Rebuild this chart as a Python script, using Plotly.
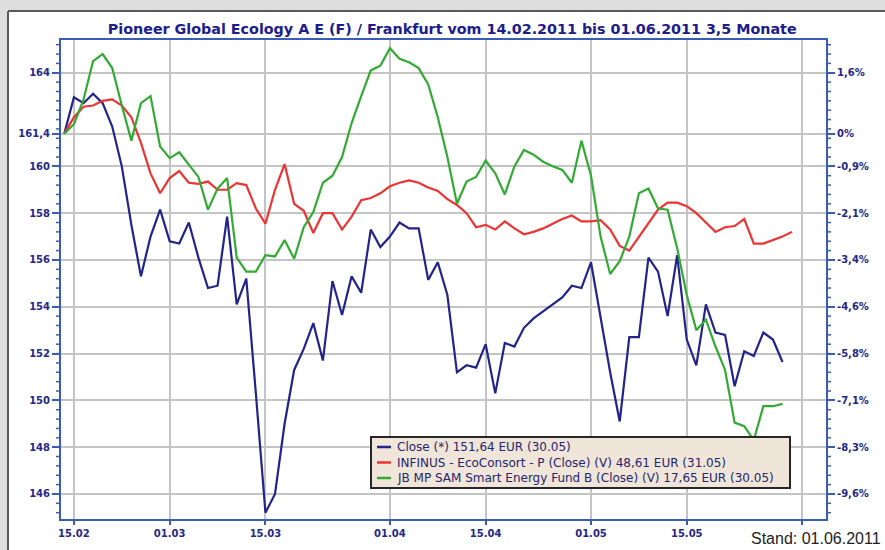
import plotly.graph_objects as go

# Trading days (Frankfurt) 14.02.2011 - 31.05.2011
dates = [
    "2011-02-14", "2011-02-15", "2011-02-16", "2011-02-17", "2011-02-18",
    "2011-02-21", "2011-02-22", "2011-02-23", "2011-02-24", "2011-02-25",
    "2011-02-28",
    "2011-03-01", "2011-03-02", "2011-03-03", "2011-03-04",
    "2011-03-07", "2011-03-08", "2011-03-09", "2011-03-10", "2011-03-11",
    "2011-03-14", "2011-03-15", "2011-03-16", "2011-03-17", "2011-03-18",
    "2011-03-21", "2011-03-22", "2011-03-23", "2011-03-24", "2011-03-25",
    "2011-03-28", "2011-03-29", "2011-03-30", "2011-03-31",
    "2011-04-01",
    "2011-04-04", "2011-04-05", "2011-04-06", "2011-04-07", "2011-04-08",
    "2011-04-11", "2011-04-12", "2011-04-13", "2011-04-14", "2011-04-15",
    "2011-04-18", "2011-04-19", "2011-04-20", "2011-04-21", "2011-04-22",
    "2011-04-25", "2011-04-26", "2011-04-27", "2011-04-28", "2011-04-29",
    "2011-05-02", "2011-05-03", "2011-05-04", "2011-05-05", "2011-05-06",
    "2011-05-09", "2011-05-10", "2011-05-11", "2011-05-12", "2011-05-13",
    "2011-05-16", "2011-05-17", "2011-05-18", "2011-05-19", "2011-05-20",
    "2011-05-23", "2011-05-24", "2011-05-25", "2011-05-26", "2011-05-27",
    "2011-05-30", "2011-05-31",
]

close_values = [
    161.4, 162.95, 162.7, 163.1, 162.7, 161.7, 160.0, 157.5, 155.3, 157.0,
    158.15, 156.8, 156.7, 157.6, 156.1, 154.8, 154.9, 157.85, 154.1, 155.2,
    150.3, 145.2, 146.0, 149.0, 151.3, 152.2, 153.3, 151.7, 155.1, 153.65,
    155.3, 154.6, 157.3, 156.55, 157.0, 157.6, 157.35, 157.35, 155.15, 155.9,
    154.5, 151.2, 151.5, 151.4, 152.4, 150.3, 152.45, 152.3, 153.1, 153.5,
    153.8, 154.1, 154.4, 154.9, 154.8, 155.9, 153.5, 151.2, 149.1, 152.7,
    152.7, 156.1, 155.5, 153.6, 156.2, 152.6, 151.5, 154.1, 152.9, 152.8,
    150.6, 152.1, 151.9, 152.9, 152.6, 151.64,
]

infinus_values = [
    161.4, 162.1, 162.55, 162.6, 162.8, 162.86, 162.6, 162.1, 161.0, 159.7,
    158.85, 159.5, 159.8, 159.3, 159.25, 159.35, 159.0, 159.0, 159.28, 159.2,
    158.2, 157.55, 159.0, 160.1, 158.4, 158.1, 157.15, 158.0, 158.0, 157.3,
    157.85, 158.55, 158.65, 158.85, 159.15, 159.3, 159.4, 159.3, 159.1, 158.95,
    158.6, 158.35, 158.0, 157.4, 157.5, 157.3, 157.65, 157.35, 157.1, 157.2,
    157.35, 157.55, 157.75, 157.9, 157.65, 157.65, 157.7, 157.3, 156.6, 156.4,
    157.0, 157.6, 158.15, 158.45, 158.45, 158.3, 158.0, 157.6, 157.2, 157.4,
    157.45, 157.75, 156.7, 156.7, 156.85, 157.0, 157.2,
]

smart_energy_values = [
    161.4, 161.8, 162.85, 164.5, 164.8, 164.2, 162.6, 161.1, 162.7, 163.0,
    160.85, 160.35, 160.6, 160.05, 159.55, 158.15, 159.05, 159.5, 156.1, 155.5,
    155.5, 156.2, 156.15, 156.85, 156.05, 157.4, 158.05, 159.3, 159.6, 160.4,
    161.85, 163.0, 164.1, 164.3, 165.05, 164.6, 164.45, 164.2, 163.5, 162.1,
    160.4, 158.4, 159.35, 159.55, 160.25, 159.7, 158.8, 160.0, 160.7, 160.5,
    160.2, 160.0, 159.85, 159.3, 161.1, 159.6, 157.0, 155.4, 155.95, 157.0,
    158.85, 159.05, 158.2, 158.15, 156.5, 154.5, 153.0, 153.45, 152.3, 151.3,
    149.05, 148.9, 148.3, 149.75, 149.75, 149.85,
]

series_names = [
    "Close (*) 151,64 EUR (30.05)",
    "INFINUS - EcoConsort - P (Close) (V) 48,61 EUR (31.05)",
    "JB MP SAM Smart Energy Fund B (Close) (V) 17,65 EUR (30.05)",
]
series_colors = ["#23238c", "#ee3333", "#33aa33"]

y_tick_vals = [146, 148, 150, 152, 154, 156, 158, 160, 161.4, 164]
y_tick_text = ["146", "148", "150", "152", "154", "156", "158", "160", "161,4", "164"]
pct_tick_text = ["-9,6%", "-8,3%", "-7,1%", "-5,8%", "-4,6%", "-3,4%", "-2,1%", "-0,9%", "0%", "1,6%"]
# minor tick positions on both value axes (every 0.4 from 145.2 to 165.2)
minor_tick_vals = [round(145.2 + 0.4 * i, 1) for i in range(51)]

x_tick_vals = ["2011-02-15", "2011-03-01", "2011-03-15", "2011-04-01", "2011-04-15",
               "2011-05-02", "2011-05-16", "2011-06-01"]
x_tick_text = ["15.02", "01.03", "15.03", "01.04", "15.04", "01.05", "15.05", ""]

title_text = "Pioneer Global Ecology A E (F) / Frankfurt vom 14.02.2011 bis 01.06.2011 3,5 Monate"
stand_text = "Stand: 01.06.2011"

navy = "#26268a"
axis_blue = "#3b5cb4"
grid_gray = "#c4c4c4"
frame_gray = "#dedede"
y_range = [144.93, 165.4]

fig = go.Figure()
for vals, name, col in zip([close_values, infinus_values, smart_energy_values], series_names, series_colors):
    fig.add_trace(go.Scatter(
        x=dates[:len(vals)], y=vals, mode="lines", name=name,
        line=dict(color=col, width=2.2), showlegend=False,
    ))

# invisible anchor trace for the right-hand percentage axis
fig.add_trace(go.Scatter(x=[dates[0]], y=[close_values[0]], yaxis="y2", mode="markers",
                         marker=dict(opacity=0), showlegend=False, hoverinfo="skip"))

tickfont = dict(family="DejaVu Sans", size=10, color=navy, weight="bold")

px_x = lambda p: (p - 61) / 765
px_y = lambda p: (519 - p) / 479

row_y = [px_y(447), px_y(462.5), px_y(478)]

shapes = [
    # grey window strips (left and top) with dark frame line, outside the plot area
    dict(type="rect", xref="paper", yref="paper", layer="above",
         x0=px_x(-5), x1=px_x(7), y0=px_y(560), y1=px_y(-5),
         fillcolor=frame_gray, line=dict(width=0)),
    dict(type="rect", xref="paper", yref="paper", layer="above",
         x0=px_x(-5), x1=px_x(890), y0=px_y(10), y1=px_y(-5),
         fillcolor=frame_gray, line=dict(width=0)),
    dict(type="line", xref="paper", yref="paper", layer="above",
         x0=px_x(8), x1=px_x(8), y0=px_y(560), y1=px_y(11),
         line=dict(color="#5a5a5a", width=2)),
    dict(type="line", xref="paper", yref="paper", layer="above",
         x0=px_x(8), x1=px_x(890), y0=px_y(11), y1=px_y(11),
         line=dict(color="#5a5a5a", width=2)),
    # legend box
    dict(type="rect", xref="paper", yref="paper", layer="above",
         x0=px_x(371), x1=px_x(790), y0=px_y(488), y1=px_y(437),
         fillcolor="#efe5d8", line=dict(color="#262626", width=2)),
]
# minor tick marks on the left and right value axes (placed through the y scale)
for v in minor_tick_vals:
    if y_range[0] <= v <= y_range[1]:
        for xa, xb in [(px_x(56), px_x(60)), (px_x(827), px_x(831))]:
            shapes.append(dict(type="line", xref="paper", yref="y", layer="above",
                               x0=xa, x1=xb, y0=v, y1=v,
                               line=dict(color=axis_blue, width=1.5)))

annotations = [
    dict(text=stand_text, xref="paper", yref="paper",
         x=px_x(749), y=px_y(538), xanchor="left", yanchor="middle",
         showarrow=False, font=dict(family="Liberation Sans", size=16, color="#222222")),
]
for name, col, yy in zip(series_names, series_colors, row_y):
    shapes.append(dict(type="line", xref="paper", yref="paper", layer="above",
                       x0=px_x(377), x1=px_x(391), y0=yy, y1=yy, line=dict(color=col, width=2.5)))
    annotations.append(dict(text=name, xref="paper", yref="paper", x=px_x(395), y=yy,
                            xanchor="left", yanchor="middle", showarrow=False,
                            font=dict(family="DejaVu Sans", size=12, color="#262670")))

fig.update_layout(
    width=885, height=550,
    margin=dict(l=61, r=59, t=40, b=31),
    paper_bgcolor="white",
    plot_bgcolor="white",
    title=dict(text=title_text, x=0.511, xanchor="center", y=1 - 29 / 550, yanchor="middle",
               font=dict(family="DejaVu Sans", size=14.3, color="#1c1c8c", weight="bold")),
    showlegend=False,
    xaxis=dict(
        type="date",
        range=["2011-02-11 15:36", "2011-06-03 13:00"],
        rangebreaks=[dict(bounds=["sat", "mon"])],
        tickmode="array", tickvals=x_tick_vals, ticktext=x_tick_text,
        showgrid=True, gridcolor=grid_gray, gridwidth=2,
        showline=True, linecolor=axis_blue, linewidth=2, mirror=True,
        ticks="outside", ticklen=4, tickwidth=2, tickcolor=axis_blue,
        tickfont=tickfont, zeroline=False,
    ),
    yaxis=dict(
        range=y_range,
        tickmode="array", tickvals=y_tick_vals, ticktext=y_tick_text,
        showgrid=True, gridcolor=grid_gray, gridwidth=2,
        showline=True, linecolor=axis_blue, linewidth=2, mirror=True,
        ticks="outside", ticklen=7, tickwidth=2, tickcolor=axis_blue,
        tickfont=tickfont, zeroline=False,
    ),
    yaxis2=dict(
        overlaying="y", side="right", anchor="x",
        range=y_range,
        tickmode="array", tickvals=y_tick_vals, ticktext=pct_tick_text,
        showgrid=False,
        showline=True, linecolor=axis_blue, linewidth=2,
        ticks="outside", ticklen=7, tickwidth=2, tickcolor=axis_blue,
        tickfont=tickfont, zeroline=False,
    ),
    shapes=shapes,
    annotations=annotations,
)

fig.write_html("out.html")
